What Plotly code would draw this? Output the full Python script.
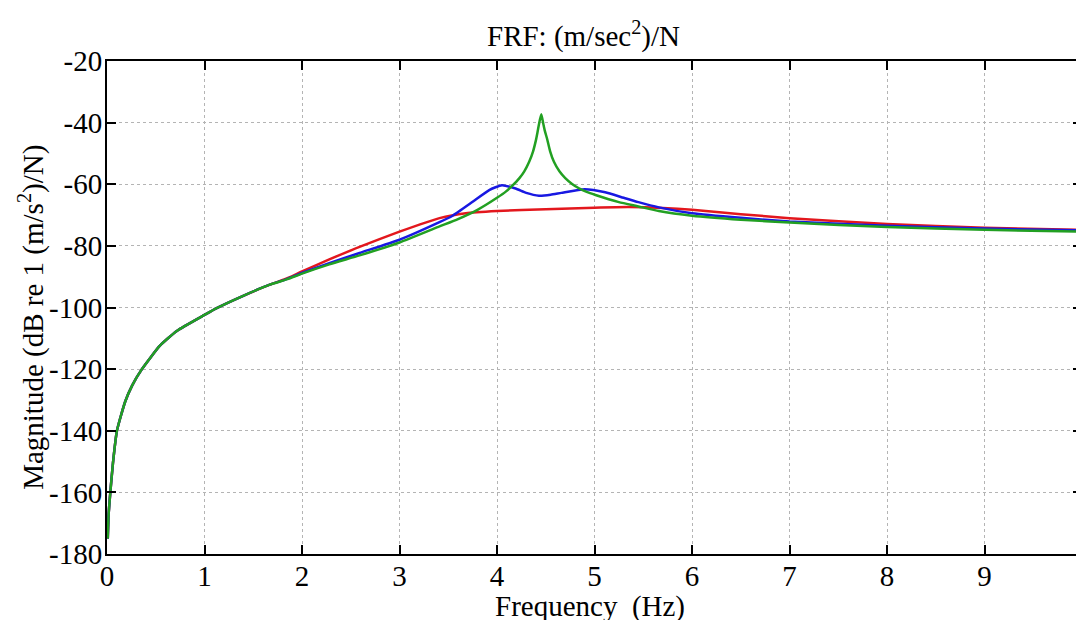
import plotly.graph_objects as go

# ---- data ----
freq_low = [0.008, 0.017, 0.034, 0.061, 0.102, 0.187, 0.26, 0.358, 0.545, 0.716,
            1.0, 1.125, 1.397, 1.67]
mag_low = [-175.0, -167.0, -160.0, -150.5, -140.0, -130.5, -125.2, -120.0, -112.3,
           -107.6, -102.4, -100.2, -96.2, -92.6]

freq_red = [1.85, 2.0, 2.28, 2.59, 3.0, 3.41, 3.68, 4.0, 4.5, 5.0, 5.35, 5.7, 6.0,
            6.5, 7.0, 8.0, 9.0, 10.0]
mag_red = [-90.5, -88.3, -84.4, -80.3, -75.4, -71.0, -69.4, -68.7, -68.1, -67.6,
           -67.4, -67.7, -68.3, -69.7, -71.0, -72.9, -74.1, -74.8]

freq_blue = [1.85, 2.0, 2.28, 2.59, 3.0, 3.41, 3.54, 3.75, 3.92, 4.05, 4.19, 4.3,
             4.43, 4.55, 4.66, 4.9, 5.11, 5.3, 5.45, 5.66, 6.0, 6.5, 7.0, 8.0,
             9.0, 10.0]
mag_blue = [-90.7, -88.8, -85.6, -82.3, -78.0, -72.3, -70.3, -65.7, -61.9, -60.3,
            -61.4, -62.8, -63.7, -63.4, -62.8, -61.6, -62.6, -64.4, -65.8, -67.5,
            -69.4, -70.9, -72.1, -73.5, -74.4, -75.0]

freq_green = [1.85, 2.0, 2.28, 2.59, 3.0, 3.41, 3.6, 3.8, 4.0, 4.09, 4.16, 4.23,
              4.28, 4.33, 4.37, 4.40, 4.415, 4.43, 4.454, 4.475, 4.49, 4.515,
              4.545, 4.584, 4.64, 4.70, 4.77, 4.84, 4.92, 5.01, 5.25, 5.45,
              5.66, 6.0, 6.5, 7.0, 8.0, 9.0, 10.0]
mag_green = [-90.8, -89.0, -86.0, -83.1, -78.9, -73.7, -71.3, -68.3, -64.4, -62.4,
             -60.4, -58.0, -55.8, -52.7, -49.3, -45.6, -43.2, -40.6, -37.3, -40.4,
             -42.6, -45.4, -49.3, -52.7, -55.8, -58.0, -59.9, -61.3, -62.5, -63.5,
             -65.8, -67.2, -68.7, -70.2, -71.5, -72.4, -73.9, -74.8, -75.4]

x_ticks = [0, 1, 2, 3, 4, 5, 6, 7, 8, 9]
y_ticks = [-180, -160, -140, -120, -100, -80, -60, -40, -20]

title_text = "FRF: (m/sec<sup>2</sup>)/N"
x_title = "Frequency  (Hz)"
y_title = "Magnitude (dB re 1 (m/s<sup>2</sup>)/N)"

FONT = "Liberation Serif, Times New Roman, serif"

series = [
    ("red", freq_red, mag_red, "#e3171d"),
    ("blue", freq_blue, mag_blue, "#1818e2"),
    ("green", freq_green, mag_green, "#22a022"),
]

fig = go.Figure()
for name, fx, my, col in series:
    fig.add_trace(go.Scatter(
        x=freq_low + fx, y=mag_low + my, mode="lines", name=name,
        line=dict(color=col, width=2.5, shape="spline", smoothing=0.5),
        showlegend=False,
    ))

axis_common = dict(
    showline=True, linecolor="black", linewidth=2, mirror="ticks",
    ticks="inside", ticklen=9, tickwidth=2, tickcolor="black",
    showgrid=True, gridcolor="#b4b4b4", gridwidth=1, griddash="dot",
    zeroline=False,
    tickfont=dict(family=FONT, size=29, color="black"),
)

fig.update_layout(
    width=1084, height=620,
    margin=dict(l=99, r=8, t=53, b=74),
    paper_bgcolor="white", plot_bgcolor="white",
    xaxis=dict(range=[0, 10], tickvals=x_ticks, ticktext=[str(v) for v in x_ticks],
               ticklabelstandoff=-5, **axis_common),
    yaxis=dict(range=[-180, -20], tickvals=y_ticks, ticktext=[str(v) for v in y_ticks],
               ticklabelstandoff=-3, **axis_common),
    annotations=[
        dict(text=title_text, xref="paper", yref="paper", x=0.489, y=1.0,
             yshift=27, xanchor="center", yanchor="middle", showarrow=False,
             font=dict(family=FONT, size=29, color="black")),
        dict(text=x_title, xref="paper", yref="paper", x=0.495, y=0.0,
             yshift=-52, xanchor="center", yanchor="middle", showarrow=False,
             font=dict(family=FONT, size=29, color="black")),
        dict(text=y_title, xref="paper", yref="paper", x=0.0, xshift=-75,
             y=0.479, xanchor="center", yanchor="middle", textangle=-90,
             showarrow=False, font=dict(family=FONT, size=29, color="black")),
    ],
)

fig.write_html("out.html")
